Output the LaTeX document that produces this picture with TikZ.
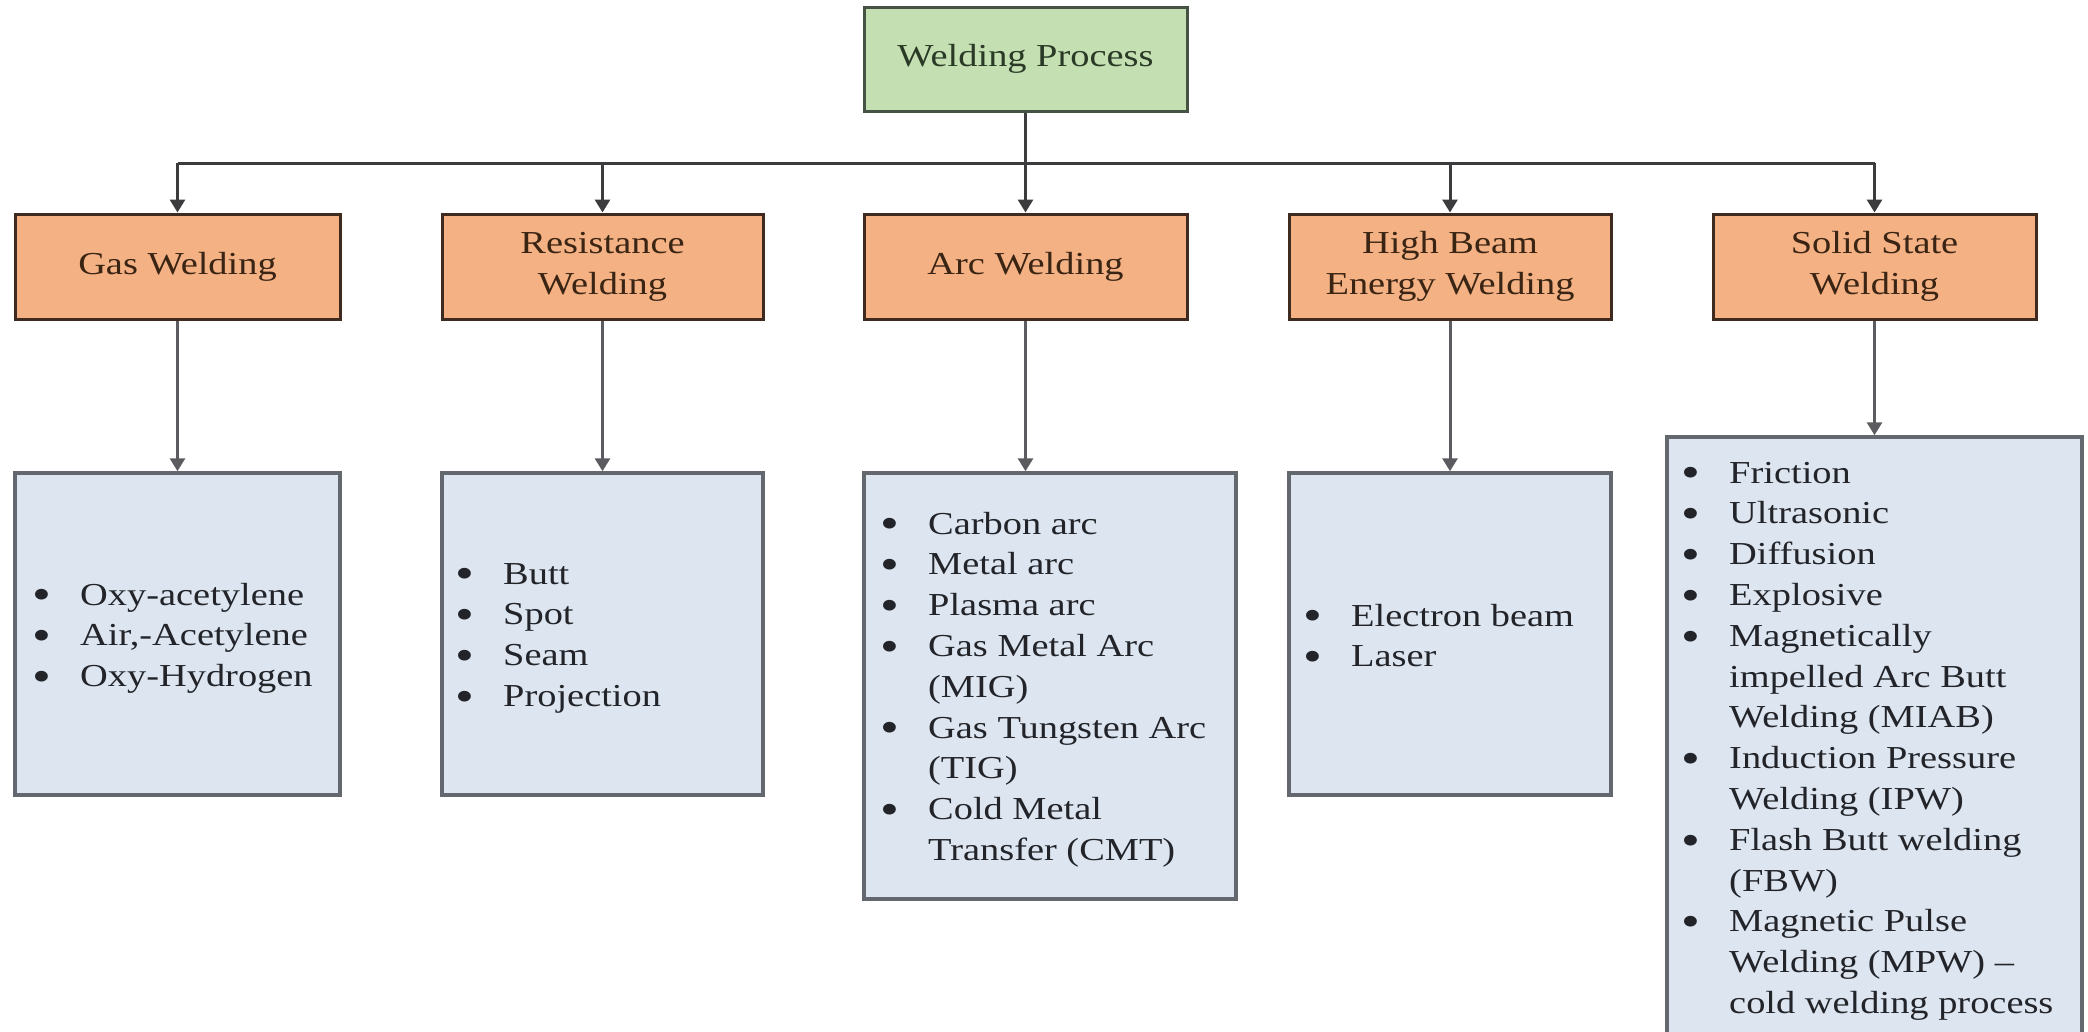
\documentclass[tikz,border=0pt]{standalone}
\usepackage{fontspec}
\usepackage{graphicx}
\setmainfont{Liberation Serif}[FakeStretch=1.2]
\usetikzlibrary{arrows.meta,calc}
\definecolor{gfill}{RGB}{196,224,178}
\definecolor{gline}{RGB}{70,82,68}
\definecolor{gtext}{RGB}{42,58,38}
\definecolor{ofill}{RGB}{244,177,131}
\definecolor{oline}{RGB}{62,42,30}
\definecolor{otext}{RGB}{58,36,20}
\definecolor{bfill}{RGB}{221,230,240}
\definecolor{bline}{RGB}{98,104,110}
\definecolor{btext}{RGB}{34,36,42}
\definecolor{connc}{RGB}{60,60,62}
\definecolor{connd}{RGB}{92,92,96}
\newcommand\wbul{\makebox[48pt][l]{\raisebox{-0.15em}{\scalebox{1.4}{\textbullet}}}}
\newcommand\wind{\hspace*{48pt}}
\begin{document}
\begin{tikzpicture}[x=1pt,y=-1pt,
  box/.style={draw, rectangle, inner sep=0pt, align=center, font=\fontsize{32}{41}\selectfont},
  topbox/.style={box, fill=gfill, draw=gline, line width=3pt, text=gtext, minimum width=323pt, minimum height=104pt},
  catbox/.style={box, fill=ofill, draw=oline, line width=3pt, text=otext, minimum height=105pt},
  listbox/.style={rectangle, draw=bline, fill=bfill, line width=3.5pt, inner sep=0pt},
  listtxt/.style={inner sep=0pt, anchor=base west, text=btext, align=left, font=\fontsize{32}{40.8}\selectfont},
  bus/.style={draw=connc, line width=3pt},
  conn/.style={draw=connc, line width=3pt, -{Triangle[length=13pt,width=15pt]}},
  connb/.style={draw=connd, line width=3pt, -{Triangle[length=13pt,width=15pt]}}]
\useasboundingbox (0,0) rectangle (2088,1031);
\clip (0,0) rectangle (2088,1031);
\fill[white] (0,0) rectangle (2088,1031);

% top node
\node[topbox] (wp) at (1025.5,59) {Welding Process};

% category nodes
\node[catbox, minimum width=325pt] (gas) at (177.5,266.5) {Gas Welding};
\node[catbox, minimum width=321pt] (res) at (602.5,266.5) {Resistance\\Welding};
\node[catbox, minimum width=323pt] (arc) at (1025.5,266.5) {Arc Welding};
\node[catbox, minimum width=322pt] (hbe) at (1450,266.5) {High Beam\\Energy Welding};
\node[catbox, minimum width=323pt] (sol) at (1874.5,266.5) {Solid State\\Welding};

% list boxes
\node[listbox, minimum width=325pt, minimum height=322pt] (gasL) at (177.5,634) {};
\node[listbox, minimum width=321pt, minimum height=322pt] (resL) at (602.5,634) {};
\node[listbox, minimum width=372pt, minimum height=426pt] (arcL) at (1050,686) {};
\node[listbox, minimum width=322pt, minimum height=322pt] (hbeL) at (1450,634) {};
\node[listbox, minimum width=415pt, minimum height=623pt] (solL) at (1874.5,748.5) {};

% list texts
\node[listtxt] (gasT) at (32,605) {\begin{tabular}[t]{@{}l@{}}
\wbul Oxy-acetylene\\
\wbul Air,-Acetylene\\
\wbul Oxy-Hydrogen\end{tabular}};
\node[listtxt] (resT) at (455,584) {\begin{tabular}[t]{@{}l@{}}
\wbul Butt\\
\wbul Spot\\
\wbul Seam\\
\wbul Projection\end{tabular}};
\node[listtxt] (arcT) at (880,534) {\begin{tabular}[t]{@{}l@{}}
\wbul Carbon arc\\
\wbul Metal arc\\
\wbul Plasma arc\\
\wbul Gas Metal Arc\\
\wind (MIG)\\
\wbul Gas Tungsten Arc\\
\wind (TIG)\\
\wbul Cold Metal\\
\wind Transfer (CMT)\end{tabular}};
\node[listtxt] (hbeT) at (1303,626) {\begin{tabular}[t]{@{}l@{}}
\wbul Electron beam\\
\wbul Laser\end{tabular}};
\node[listtxt] (solT) at (1681,483) {\begin{tabular}[t]{@{}l@{}}
\wbul Friction\\
\wbul Ultrasonic\\
\wbul Diffusion\\
\wbul Explosive\\
\wbul Magnetically\\
\wind impelled Arc Butt\\
\wind Welding (MIAB)\\
\wbul Induction Pressure\\
\wind Welding (IPW)\\
\wbul Flash Butt welding\\
\wind (FBW)\\
\wbul Magnetic Pulse\\
\wind Welding (MPW) --\\
\wind cold welding process\end{tabular}};

% connectors
\coordinate (busc) at (1025.5,163);
\draw[bus] (gas.north |- busc) -- (sol.north |- busc);
\draw[conn] (wp.south) -- (arc.north);
\draw[conn] (gas.north |- busc) -- (gas.north);
\draw[conn] (res.north |- busc) -- (res.north);
\draw[conn] (hbe.north |- busc) -- (hbe.north);
\draw[conn] (sol.north |- busc) -- (sol.north);

\draw[connb] (gas.south) -- (gasL.north);
\draw[connb] (res.south) -- (resL.north);
\draw[connb] (arc.south) -- (arc.south |- arcL.north);
\draw[connb] (hbe.south) -- (hbeL.north);
\draw[connb] (sol.south) -- (sol.south |- solL.north);
\end{tikzpicture}
\end{document}
